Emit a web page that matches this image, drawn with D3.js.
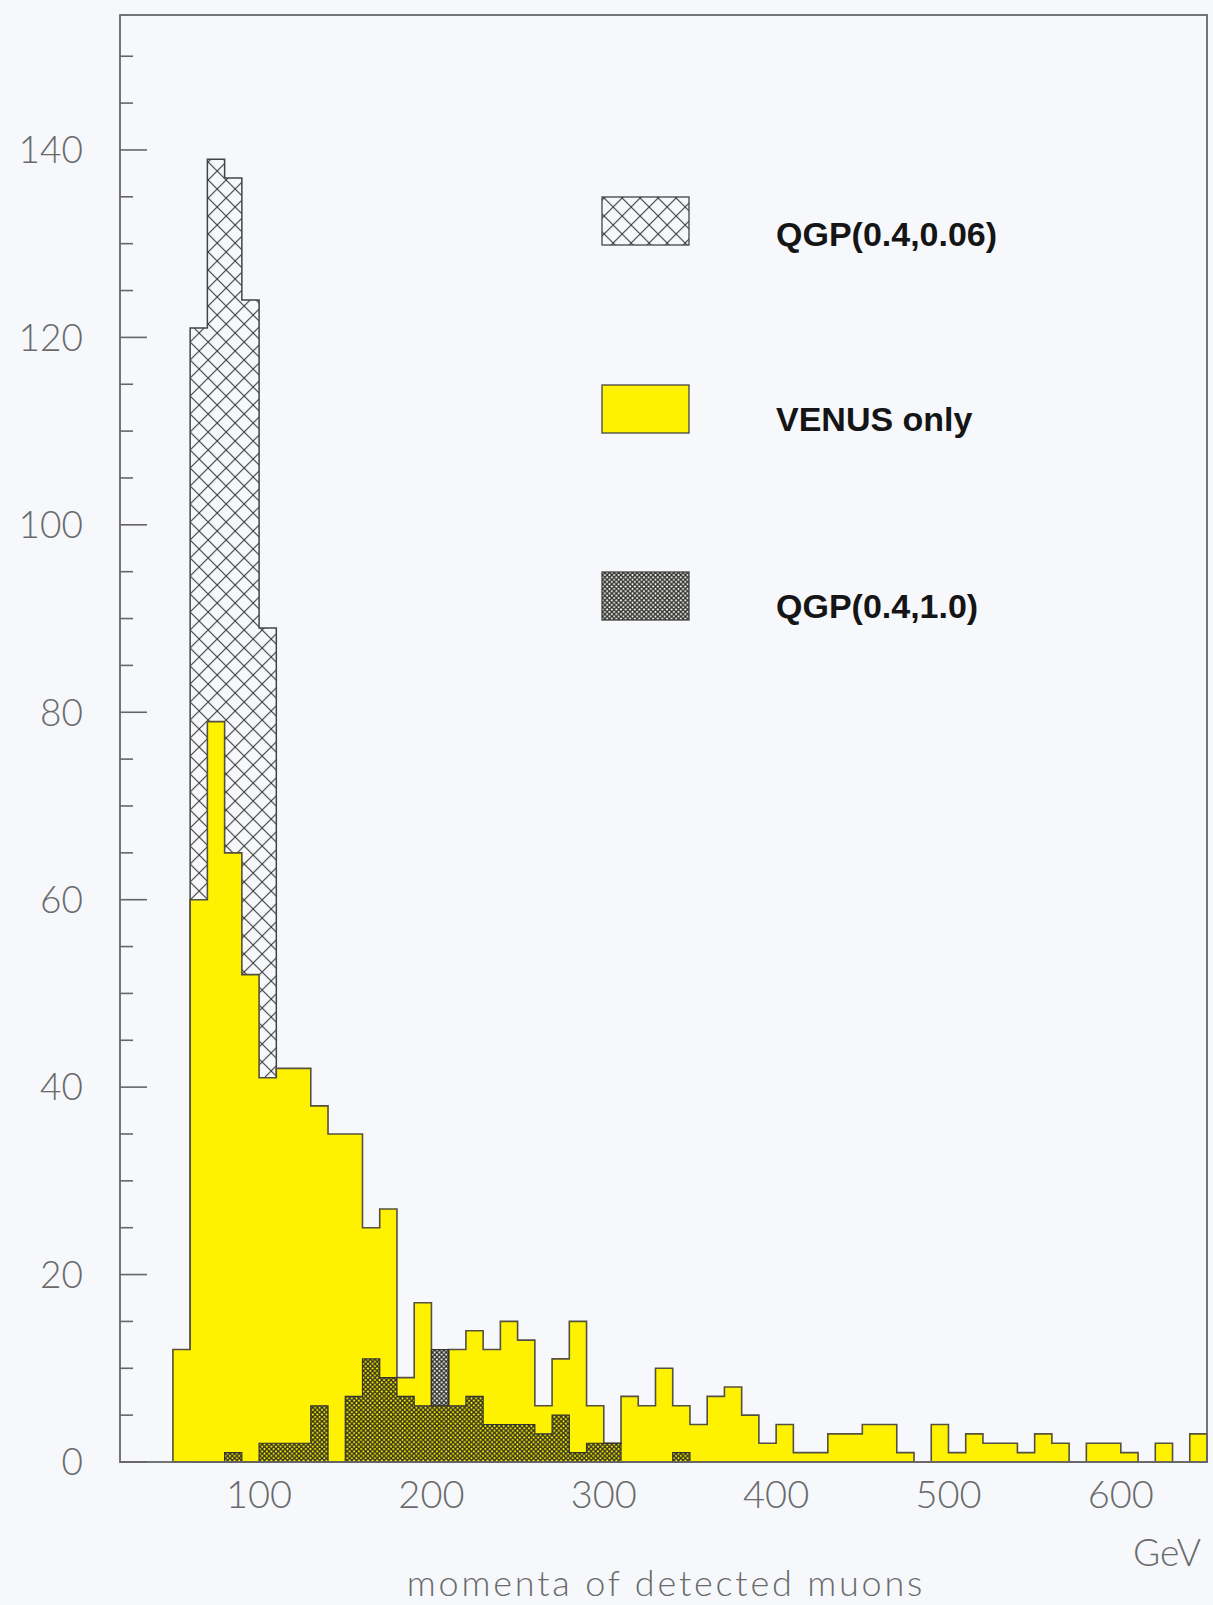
<!DOCTYPE html>
<html>
<head>
<meta charset="utf-8">
<script src="https://cdn.jsdelivr.net/npm/d3@7"></script>
<style>
  html, body { margin: 0; padding: 0; background: #f6f8fc; }
  svg { display: block; }
</style>
</head>
<body>
<svg id="chart" width="1213" height="1605"></svg>
<script>
// ---------------- data ----------------
const binWidth = 10; // GeV
// VENUS only (yellow), bins starting at 50 GeV
const venusStart = 50;
const venusCounts = [12,60,79,65,52,41,42,42,38,35,35,25,27,9,17,6,12,14,12,15,13,6,11,15,6,2,7,6,10,6,4,7,8,5,2,4,1,1,3,3,4,4,1,0,4,1,3,2,2,1,3,2,0,2,2,1,0,2,0,3];
// QGP(0.4,0.06) (wide cross-hatch), visible bins starting at 60 GeV
const qgp006Start = 60;
const qgp006Counts = [121,139,137,124,89];
// QGP(0.4,1.0) (dense hatch), bins starting at 80 GeV
const qgp10Start = 80;
const qgp10Counts = [1,0,2,2,2,6,0,7,11,9,7,6,12,6,7,4,4,4,3,5,1,2,2,0,0,0,1];

const xTicks = [100,200,300,400,500,600];
const yTicks = [0,20,40,60,80,100,120,140];
const legendLabels = ["QGP(0.4,0.06)", "VENUS only", "QGP(0.4,1.0)"];
const xUnit = "GeV";
const xTitle = "momenta of detected muons";

// ---------------- layout ----------------
const frame = {left: 120, right: 1207, top: 15, bottom: 1462};
const x = d3.scaleLinear().domain([19.3, 650]).range([frame.left, frame.right]);
const y = d3.scaleLinear().domain([0, 154.4]).range([frame.bottom, frame.top]);

const svg = d3.select("#chart");
const defs = svg.append("defs");

// wide cross-hatch
const pc = defs.append("pattern").attr("id","crossWide")
  .attr("patternUnits","userSpaceOnUse").attr("width",18).attr("height",18)
  .attr("x", x(60)).attr("y", 0);
pc.append("rect").attr("width",18).attr("height",18).attr("fill","#f7f8fc");
pc.append("path").attr("d","M0,0L18,18M18,0L0,18M-1,17L1,19M17,-1L19,1")
  .attr("stroke","#3a3a3a").attr("stroke-width",1.1).attr("fill","none");

// dense hatch (transparent background)
const pd = defs.append("pattern").attr("id","crossDense")
  .attr("patternUnits","userSpaceOnUse").attr("width",4.6).attr("height",4.6);
pd.append("path").attr("d","M0,0L4.6,4.6M4.6,0L0,4.6")
  .attr("stroke","#2b2b22").attr("stroke-width",1.35).attr("fill","none");

function histPoints(start, counts) {
  const pts = counts.map((v, i) => ({x0: start + i * binWidth, v}));
  pts.push({x0: start + counts.length * binWidth, v: counts[counts.length - 1]});
  return pts;
}
const area = d3.area()
  .curve(d3.curveStepAfter)
  .x(d => x(d.x0))
  .y0(y(0))
  .y1(d => y(d.v));

const plot = svg.append("g");

// QGP(0.4,0.06)
plot.append("path").datum(histPoints(qgp006Start, qgp006Counts))
  .attr("d", area).attr("fill","url(#crossWide)")
  .attr("stroke","#444").attr("stroke-width",1.5);

// VENUS only
plot.append("path").datum(histPoints(venusStart, venusCounts))
  .attr("d", area).attr("fill","#fff200")
  .attr("stroke","#555040").attr("stroke-width",1.6);

// QGP(0.4,1.0)
plot.append("path").datum(histPoints(qgp10Start, qgp10Counts))
  .attr("d", area).attr("fill","url(#crossDense)")
  .attr("stroke","#333").attr("stroke-width",1.2);

// ---------------- frame & axes ----------------
svg.append("rect")
  .attr("x", frame.left).attr("y", frame.top)
  .attr("width", frame.right - frame.left).attr("height", frame.bottom - frame.top)
  .attr("fill","none").attr("stroke","#666").attr("stroke-width",1.8);

// y ticks (inside, major every 20, minor every 5)
const minorTicks = d3.range(0, 155, 5);
svg.append("g").selectAll("line").data(minorTicks).join("line")
  .attr("x1", frame.left).attr("x2", d => frame.left + (d % 20 === 0 ? 27 : 13))
  .attr("y1", d => y(d)).attr("y2", d => y(d))
  .attr("stroke","#666").attr("stroke-width",1.6);

const axisFont = "Lato, 'Open Sans', 'DejaVu Sans', sans-serif";
svg.append("g").selectAll("text").data(yTicks).join("text")
  .attr("x", 83).attr("y", d => y(d)).attr("dy","0.36em")
  .attr("text-anchor","end")
  .attr("font-family", axisFont).attr("font-weight",300)
  .attr("font-size", 37).attr("fill","#6a6a6a")
  .text(d => d);

svg.append("g").selectAll("text").data(xTicks).join("text")
  .attr("x", d => x(d)).attr("y", 1508)
  .attr("text-anchor","middle")
  .attr("font-family", axisFont).attr("font-weight",300)
  .attr("font-size", 38).attr("fill","#6a6a6a")
  .text(d => d);

svg.append("text").attr("x", 1201).attr("y", 1566).attr("text-anchor","end")
  .attr("font-family", axisFont).attr("font-weight",300)
  .attr("font-size", 37).attr("fill","#6a6a6a").text(xUnit);

svg.append("text").attr("x", 666).attr("y", 1596).attr("text-anchor","middle")
  .attr("font-family", axisFont).attr("font-weight",300)
  .attr("font-size", 36).attr("letter-spacing", 2.8).attr("fill","#6a6a6a").text(xTitle);

// ---------------- legend ----------------
const legendRows = [
  {label: legendLabels[0], fill: "url(#crossWide)", y0: 197, base: 246},
  {label: legendLabels[1], fill: "#fff200", y0: 385, base: 431},
  {label: legendLabels[2], fill: "url(#crossDense)", y0: 572, base: 618}
];
const lg = svg.append("g");
legendRows.forEach((r, i) => {
  if (i === 2) {
    lg.append("rect").attr("x",602).attr("y",r.y0).attr("width",87).attr("height",48).attr("fill","#f7f8fc");
  }
  lg.append("rect").attr("x",602).attr("y",r.y0).attr("width",87).attr("height",48)
    .attr("fill", r.fill).attr("stroke","#444").attr("stroke-width",1.3);
  lg.append("text").attr("x",776).attr("y",r.base)
    .attr("font-family","'Liberation Sans', Arial, Helvetica, sans-serif")
    .attr("font-weight","bold").attr("font-size",34).attr("fill","#151515")
    .text(r.label);
});
</script>
</body>
</html>
